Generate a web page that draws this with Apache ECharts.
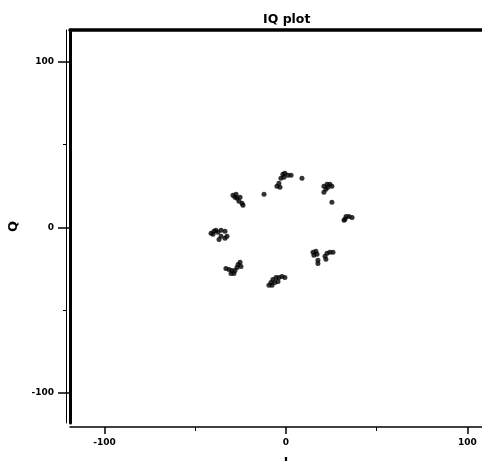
<!DOCTYPE html>
<html>
<head>
<meta charset="utf-8">
<script src="https://cdn.jsdelivr.net/npm/echarts@6/dist/echarts.min.js"></script>
<style>
  html, body { margin: 0; padding: 0; background: #fff; }
  #iqChart { width: 482px; height: 461px; }
</style>
</head>
<body>
<div id="iqChart"></div>
<script>
// I / Q 取值
var iVals = [
  -5.0, -3.9, -2.8, -1.7, -0.6, 1.1, 2.8, -3.3, -1.1,
  8.8, -12.1,
  -29.2, -27.5, -27.0, -25.3, -25.9, -24.2, -23.7, -28.1,
  20.9, 22.6, 24.2, 25.3, 22.0, 20.9, 23.1,
  25.3,
  32.0, 33.1, 34.7, 36.4, 32.5,
  -41.3, -39.7, -38.6, -37.5, -40.2, -35.8, -33.6, -35.8, -33.6, -36.9, -32.5,
  14.9, 16.5, 17.1, 15.4, 17.6, 17.6, 21.5, 22.6, 24.2, 25.9, 22.0,
  -33.1, -31.4, -29.8, -28.1, -27.0, -26.4, -24.8, -28.7, -30.3, -25.3,
  -9.4, -8.3, -7.2, -5.5, -3.9, -2.2, -0.6, -7.7, -6.1, -4.4
];
var qVals = [
  24.8, 26.6, 29.6, 32.0, 32.6, 31.4, 31.4, 24.2, 30.2,
  29.6, 19.9,
  19.3, 19.9, 17.5, 18.1, 15.7, 14.5, 13.3, 18.1,
  24.8, 26.0, 26.0, 24.8, 23.0, 21.1, 24.2,
  15.1,
  4.2, 6.6, 6.6, 6.0, 4.8,
  -3.6, -2.4, -1.8, -3.0, -4.2, -1.8, -2.4, -5.4, -6.6, -7.3, -5.4,
  -15.1, -14.5, -16.3, -16.9, -19.9, -21.8, -17.5, -15.7, -15.1, -15.1, -19.3,
  -24.8, -25.4, -26.0, -26.0, -24.2, -22.4, -23.6, -27.8, -27.8, -21.1,
  -35.0, -33.2, -31.4, -30.2, -30.2, -29.6, -30.2, -35.0, -33.2, -32.6
];
var majorTicks = [-100, 0, 100];
var minorTicks = [-50, 50];
var xRange = [-119, 108];
var yRange = [-118, 119];

var points = iVals.map(function (v, k) { return [v, qVals[k]]; });
var fontFam = 'DejaVu Sans';

var option = {
  animation: false,
  backgroundColor: '#fff',
  title: {
    text: 'IQ plot',
    left: 258,
    top: 8,
    textStyle: { fontFamily: fontFam, fontSize: 12.5, fontWeight: 'bold', color: '#000' }
  },
  grid: { left: 70, right: 0, top: 30, bottom: 38, outerBoundsMode: 'none', containLabel: false },
  xAxis: [
    {
      type: 'value', position: 'bottom', offset: 4,
      min: xRange[0], max: xRange[1],
      name: 'I', nameLocation: 'middle', nameGap: 30,
      nameTextStyle: { fontFamily: fontFam, fontSize: 12, fontWeight: 'bold', color: '#000', padding: [0, 0, 0, 20] },
      axisLine: { show: true, onZero: false, lineStyle: { color: '#000', width: 1.5 } },
      axisTick: { show: true, customValues: majorTicks, length: 7, lineStyle: { color: '#000', width: 1.5 } },
      axisLabel: { customValues: majorTicks, margin: 11, color: '#000', fontFamily: fontFam, fontSize: 9, fontWeight: 'bold' },
      splitLine: { show: false }
    },
    {
      // 小刻度 ±50
      type: 'value', position: 'bottom', offset: 4,
      min: xRange[0], max: xRange[1],
      axisLine: { show: false, onZero: false },
      axisTick: { show: true, customValues: minorTicks, length: 4, lineStyle: { color: '#000', width: 1 } },
      axisLabel: { show: false },
      splitLine: { show: false }
    },
    {
      // 顶边粗线
      type: 'value', position: 'top',
      min: xRange[0], max: xRange[1],
      axisLine: { show: true, onZero: false, lineStyle: { color: '#000', width: 3.5 } },
      axisTick: { show: false },
      axisLabel: { show: false },
      splitLine: { show: false }
    }
  ],
  yAxis: [
    {
      type: 'value', position: 'left',
      min: yRange[0], max: yRange[1],
      name: 'Q', nameLocation: 'middle', nameGap: 50, nameRotate: 90,
      nameTextStyle: { fontFamily: fontFam, fontSize: 13, fontWeight: 'bold', color: '#000' },
      axisLine: { show: true, onZero: false, lineStyle: { color: '#000', width: 3 } },
      axisTick: { show: true, customValues: majorTicks, length: 12, lineStyle: { color: '#000', width: 1.5 } },
      axisLabel: { customValues: majorTicks, margin: 16, color: '#000', fontFamily: fontFam, fontSize: 9, fontWeight: 'bold' },
      splitLine: { show: false }
    },
    {
      // 细线 + 小刻度
      type: 'value', position: 'left', offset: 4,
      min: yRange[0], max: yRange[1],
      axisLine: { show: true, onZero: false, lineStyle: { color: '#000', width: 1 } },
      axisTick: { show: true, customValues: minorTicks, length: 3, lineStyle: { color: '#000', width: 1 } },
      axisLabel: { show: false },
      splitLine: { show: false }
    }
  ],
  series: [
    {
      type: 'scatter',
      xAxisIndex: 0,
      yAxisIndex: 0,
      symbol: 'circle',
      symbolSize: 5,
      itemStyle: { color: '#000' },
      data: points
    }
  ]
};

var iqChart = echarts.init(document.getElementById('iqChart'));
iqChart.setOption(option);
</script>
</body>
</html>
